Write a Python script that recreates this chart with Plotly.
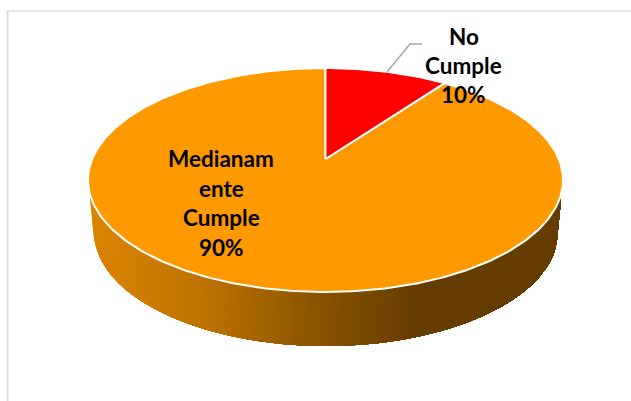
import math
import plotly.graph_objects as go

# Data
categories = ["No Cumple", "Medianamente Cumple"]
values = [10, 90]
colors = ["#FF0000", "#FF9900"]
label_lines = [["No", "Cumple", "10%"], ["Medianam", "ente", "Cumple", "90%"]]

W, H = 631, 401
# perspective of the pie's top plane
APEX_X, APEX_Y = 325.5, 159.0
A, B, K = 233.3, 108.06, 0.1875


def top_point(frac):
    """Fraction of the pie (clockwise from 12 o'clock) -> page position."""
    t = 2 * math.pi * frac
    sx, sy = math.sin(t), math.cos(t)
    d = 1 + K * sy
    return APEX_X + A * sx / d, APEX_Y - B * sy / d


def lower_y(x):
    cx, cy, rx, ry = 326.0, 232.0, 232.0, 114.0
    u = max(0.0, 1 - ((x - cx) / rx) ** 2)
    return cy + ry * math.sqrt(u)


def upper_y(x):
    cx, cy, rx, ry = 325.5, 180.0, 237.5, 112.0
    u = max(0.0, 1 - ((x - cx) / rx) ** 2)
    return cy + ry * math.sqrt(u)


def wall_color(x):
    stops = [(90, (218, 133, 0)), (200, (190, 115, 0)), (330, (132, 80, 0)),
             (415, (102, 61, 0)), (565, (102, 61, 0))]
    for (x0, c0), (x1, c1) in zip(stops, stops[1:]):
        if x <= x1:
            f = (x - x0) / (x1 - x0)
            return "rgb(%d,%d,%d)" % tuple(round(a + (b - a) * f) for a, b in zip(c0, c1))
    return "rgb(102,61,0)"


fig = go.Figure()

# Side wall, painted left to right so that each band overlaps the next
XL, XR = 90.0, 561.0
LEFT_BOTTOM, RIGHT_BOTTOM = 94.5, 557.0
STEP = 2.0


def wall_bottom(x):
    if x < LEFT_BOTTOM:
        return 200 + (x - XL) / (LEFT_BOTTOM - XL) * 43
    if x > RIGHT_BOTTOM:
        return 200 + (XR - x) / (XR - RIGHT_BOTTOM) * 40
    return lower_y(x)


edge_x = [XL + i * (XR - XL) / 236 for i in range(237)]
x = XL
while x < XR:
    xs = [e for e in edge_x if e >= x]
    px = [x] + xs + xs[::-1] + [x]
    py = [wall_bottom(x)] + [wall_bottom(e) for e in xs] + [upper_y(e) - 4 for e in xs[::-1]] + [wall_bottom(x)]
    fig.add_trace(go.Scatter(x=px, y=py, mode="lines", fill="toself",
                             fillcolor=wall_color(x), line=dict(width=0),
                             hoverinfo="skip", showlegend=False))
    x += STEP

# Top face slices, built from the values
total = sum(values)
cum = 0.0
order = []
for name, v, c in zip(categories, values, colors):
    start, end = cum / total, (cum + v) / total
    cum += v
    order.append((name, start, end, c))

for name, start, end, c in reversed(order):
    n = max(4, int((end - start) * 360))
    pts = [top_point(start + (end - start) * i / n) for i in range(n + 1)]
    xs = [APEX_X] + [p[0] for p in pts] + [APEX_X]
    ys = [APEX_Y] + [p[1] for p in pts] + [APEX_Y]
    fig.add_trace(go.Scatter(x=xs, y=ys, mode="lines", fill="toself", fillcolor=c,
                             line=dict(color="white", width=2), name=name,
                             hoverinfo="name", showlegend=False))

# Leader line
fig.add_shape(type="path", path="M 387 72 L 410 44 L 422 44",
              line=dict(color="#A6A6A6", width=1.5))

# Chart frame
fig.add_shape(type="line", x0=7, x1=631, y0=11, y1=11, line=dict(color="#DDDDDD", width=1.5))
fig.add_shape(type="line", x0=7.5, x1=7.5, y0=11, y1=401, line=dict(color="#DDDDDD", width=2))

# Data labels, one annotation per line
label_pos = [(463.5, [36.5, 65.5, 94.5]), (221, [158.5, 188.5, 217.5, 247.5])]
for lines, (lx, lys) in zip(label_lines, label_pos):
    for t, ly in zip(lines, lys):
        fig.add_annotation(x=lx, y=ly, text="<b>%s</b>" % t, showarrow=False,
                           xanchor="center", yanchor="middle",
                           font=dict(family="Lato", size=22.5, color="black"))

fig.update_layout(
    width=W, height=H, margin=dict(l=0, r=0, t=0, b=0),
    paper_bgcolor="white", plot_bgcolor="white", showlegend=False,
    xaxis=dict(range=[0, W], visible=False, fixedrange=True),
    yaxis=dict(range=[H, 0], visible=False, fixedrange=True),
)
fig.write_html("out.html", config={"displayModeBar": False},
               post_script="document.body.style.margin='0';document.body.style.overflow='hidden';")
